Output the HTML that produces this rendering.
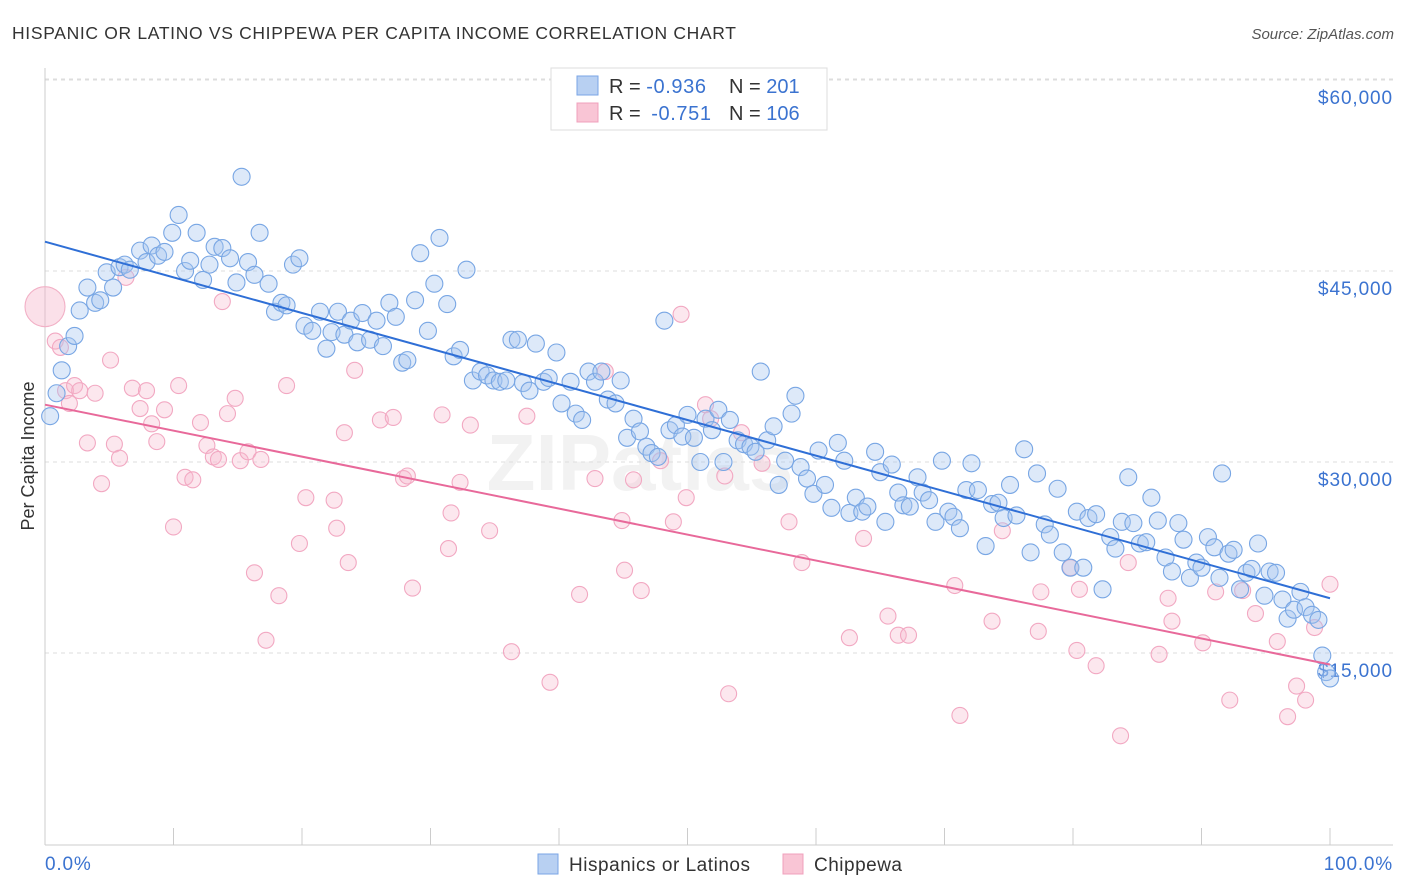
<!DOCTYPE html>
<html><head><meta charset="utf-8"><style>
body{margin:0;background:#fff;font-family:"Liberation Sans",sans-serif;}
#wrap{position:relative;width:1406px;height:892px;overflow:hidden;}
</style></head><body>
<div id="wrap">
<svg id="svg" width="1406" height="892" xmlns="http://www.w3.org/2000/svg">
<text x="12" y="39" font-size="17.5" fill="#333" textLength="724" lengthAdjust="spacing">HISPANIC OR LATINO VS CHIPPEWA PER CAPITA INCOME CORRELATION CHART</text>
<text x="1394" y="39" font-size="15" fill="#555" font-style="italic" text-anchor="end">Source: ZipAtlas.com</text>
<text x="640" y="490" font-size="80" fill="#000" fill-opacity="0.05" font-weight="bold" text-anchor="middle">ZIPatlas</text>
<g id="grid"></g><g id="axes"></g><g id="pts"></g><g id="trend"></g>
<text x="34" y="456" font-size="18" fill="#333" text-anchor="middle" transform="rotate(-90 34 456)">Per Capita Income</text>
<text x="45" y="870" font-size="19" letter-spacing="0.8" fill="#3b73d0">0.0%</text>
<text x="1393" y="870" font-size="19" letter-spacing="0.8" fill="#3b73d0" text-anchor="end">100.0%</text>
<g>
<rect x="551" y="68" width="276" height="62" fill="#fff" stroke="#ddd"/>
<rect x="577" y="76" width="21" height="19" fill="#b8d0f2" stroke="#7aa5e6"/>
<rect x="577" y="103" width="21" height="19" fill="#f9c5d5" stroke="#f0a0bc"/>
<text x="609" y="93" font-size="20" fill="#333">R = <tspan fill="#3b73d0" letter-spacing="0.6">-0.936</tspan></text>
<text x="729" y="93" font-size="20" fill="#333">N = <tspan fill="#3b73d0">201</tspan></text>
<text x="609" y="120" font-size="20" fill="#333">R = <tspan fill="#3b73d0" dx="5" letter-spacing="0.6">-0.751</tspan></text>
<text x="729" y="120" font-size="20" fill="#333">N = <tspan fill="#3b73d0">106</tspan></text>
</g>
<g>
<rect x="538" y="854" width="20" height="20" fill="#b8d0f2" stroke="#7aa5e6"/>
<text x="569" y="871" font-size="19" fill="#333" textLength="181" lengthAdjust="spacing">Hispanics or Latinos</text>
<rect x="783" y="854" width="20" height="20" fill="#f9c5d5" stroke="#f0a0bc"/>
<text x="814" y="871" font-size="19" fill="#333" textLength="88" lengthAdjust="spacing">Chippewa</text>
</g>
</svg>
</div>
<script>
const yTicks=[15,30,45,60];
const yTickLabels=["$15,000","$30,000","$45,000","$60,000"];
const xTicks=[0,10,20,30,40,50,60,70,80,90,100];
const blueX=[0.4,0.9,1.3,1.8,2.3,2.7,3.3,3.9,4.3,4.8,5.3,5.8,6.2,6.6,7.4,7.9,8.3,8.8,9.3,9.9,10.4,10.9,11.3,11.8,12.3,12.8,13.2,13.8,14.4,14.9,15.3,15.8,16.3,16.7,17.4,17.9,18.4,18.8,19.3,19.8,20.2,20.8,21.4,21.9,22.3,22.8,23.3,23.8,24.3,24.7,25.3,25.8,26.3,26.8,27.3,27.8,28.2,28.8,29.2,29.8,30.3,30.7,31.3,31.8,32.3,32.8,33.3,33.9,34.4,34.9,35.4,35.9,36.3,36.8,37.2,37.7,38.2,38.8,39.2,39.8,40.2,40.9,41.3,41.8,42.3,42.8,43.3,43.8,44.4,44.8,45.3,45.8,46.3,46.8,47.2,47.7,48.2,48.6,49.1,49.6,50.0,50.5,51.0,51.4,51.9,52.4,52.8,53.3,53.9,54.4,54.9,55.3,55.7,56.2,56.7,57.1,57.6,58.1,58.4,58.8,59.3,59.8,60.2,60.7,61.2,61.7,62.2,62.6,63.1,63.6,64.0,64.6,65.0,65.4,65.9,66.4,66.8,67.3,67.9,68.3,68.8,69.3,69.8,70.3,70.7,71.2,71.7,72.1,72.6,73.2,73.7,74.2,74.6,75.1,75.6,76.2,76.7,77.2,77.8,78.2,78.8,79.2,79.8,80.3,80.8,81.2,81.8,82.3,82.9,83.3,83.8,84.3,84.7,85.2,85.7,86.1,86.6,87.2,87.7,88.2,88.6,89.1,89.6,90.0,90.5,91.0,91.4,91.6,92.1,92.5,93.0,93.5,93.9,94.4,94.9,95.3,95.8,96.3,96.7,97.2,97.7,98.1,98.6,99.1,99.4,99.7,100];
const blueY=[33.6,35.4,37.2,39.1,39.9,41.9,43.7,42.5,42.7,44.9,43.7,45.3,45.5,45.1,46.6,45.7,47.0,46.2,46.5,48.0,49.4,45.0,45.8,48.0,44.3,45.5,46.9,46.8,46.0,44.1,52.4,45.7,44.7,48.0,44.0,41.8,42.5,42.3,45.5,46.0,40.7,40.3,41.8,38.9,40.2,41.8,40.0,41.1,39.4,41.7,39.6,41.1,39.1,42.5,41.4,37.8,38.0,42.7,46.4,40.3,44.0,47.6,42.4,38.3,38.8,45.1,36.4,37.1,36.8,36.4,36.3,36.4,39.6,39.6,36.2,35.6,39.3,36.3,36.6,38.6,34.6,36.3,33.8,33.3,37.1,36.3,37.1,34.9,34.6,36.4,31.9,33.4,32.4,31.2,30.7,30.4,41.1,32.5,32.9,32.0,33.7,31.9,30.0,33.4,32.5,34.1,30.0,33.3,31.7,31.4,31.2,30.8,37.1,31.7,32.8,28.2,30.1,33.8,35.2,29.6,28.7,27.5,30.9,28.2,26.4,31.5,30.1,26.0,27.2,26.1,26.5,30.8,29.2,25.3,29.8,27.6,26.6,26.5,28.8,27.6,27.0,25.3,30.1,26.1,25.7,24.8,27.8,29.9,27.8,23.4,26.7,26.8,25.6,28.2,25.8,31.0,22.9,29.1,25.1,24.3,27.9,22.9,21.7,26.1,21.7,25.6,25.9,20.0,24.1,23.2,25.3,28.8,25.2,23.6,23.7,27.2,25.4,22.5,21.4,25.2,23.9,20.9,22.1,21.7,24.1,23.3,20.9,29.1,22.8,23.1,20.0,21.3,21.6,23.6,19.5,21.4,21.3,19.2,17.7,18.4,19.8,18.6,18.0,17.6,14.8,13.5,13.0];
const pinkBigX=[0];
const pinkBigY=[42.2];
const pinkX=[0.8,1.2,1.6,1.9,2.3,2.7,3.3,3.9,4.4,5.1,5.4,5.8,6.3,6.8,7.4,7.9,8.3,8.7,9.3,10.0,10.4,10.9,11.5,12.1,12.6,13.1,13.5,13.8,14.2,14.8,15.2,15.8,16.3,16.8,17.2,18.2,18.8,19.8,20.3,22.5,22.7,23.3,23.6,24.1,26.1,27.1,27.9,28.2,28.6,30.9,31.4,31.6,33.1,32.3,34.6,36.3,37.5,39.3,41.6,42.8,43.6,44.9,45.1,45.8,46.4,47.9,48.9,49.5,49.9,51.4,51.8,52.9,53.2,54.2,55.8,57.9,58.9,62.6,63.7,65.6,66.4,67.2,70.8,71.2,73.7,74.5,77.3,77.5,79.8,80.3,80.5,81.8,83.7,84.3,86.7,87.4,87.7,90.1,91.1,92.2,93.2,94.2,95.9,96.7,97.4,98.1,98.8,100];
const pinkY=[39.5,39.0,35.6,34.6,36.0,35.6,31.5,35.4,28.3,38.0,31.4,30.3,44.5,35.8,34.2,35.6,33.0,31.6,34.1,24.9,36.0,28.8,28.6,33.1,31.3,30.4,30.2,42.6,33.8,35.0,30.1,30.8,21.3,30.2,16.0,19.5,36.0,23.6,27.2,27.0,24.8,32.3,22.1,37.2,33.3,33.5,28.7,28.9,20.1,33.7,23.2,26.0,32.9,28.4,24.6,15.1,33.6,12.7,19.6,28.7,37.1,25.4,21.5,28.6,19.9,30.1,25.3,41.6,27.2,34.5,33.4,28.9,11.8,32.3,29.9,25.3,22.1,16.2,24.0,17.9,16.4,16.4,20.3,10.1,17.5,24.6,16.7,19.8,21.7,15.2,20.0,14.0,8.5,22.1,14.9,19.3,17.5,15.8,19.8,11.3,19.9,18.1,15.9,10.0,12.4,11.3,17.0,20.4];
const blueTrendX=[0,100];
const blueTrendY=[47.3,19.3];
const pinkTrendX=[0,100];
const pinkTrendY=[34.5,14.1];

const NS="http://www.w3.org/2000/svg";
const X0=45,X1=1330,Y0=844,PXK=191/15;
function sx(v){return X0+(X1-X0)*v/100;}
function sy(v){return Y0-v*PXK;}
function mk(tag,attrs,parent){const e=document.createElementNS(NS,tag);for(const k in attrs)e.setAttribute(k,attrs[k]);document.getElementById(parent).appendChild(e);return e;}

yTicks.forEach((t,i)=>{
 const l=mk('line',{x1:45,x2:1393,y1:sy(t),y2:sy(t),stroke:'#ddd','stroke-dasharray':'4,4'},'grid');
 
 
 const tx=mk('text',{x:1393,y:sy(t)+24,'font-size':19,'letter-spacing':0.9,fill:'#3b73d0','text-anchor':'end'},'grid');
 tx.textContent=yTickLabels[i];
 
 
});
const gt=mk('line',{x1:45,x2:1393,y1:79,y2:79,stroke:'#ddd','stroke-dasharray':'4,4'},'grid');


const ya=mk('line',{x1:45,x2:45,y1:68,y2:845,stroke:'#ccc'},'axes');


const xa=mk('line',{x1:45,x2:1393,y1:845,y2:845,stroke:'#ccc'},'axes');


xTicks.forEach(t=>{
 const l=mk('line',{x1:sx(t),x2:sx(t),y1:828,y2:845,stroke:'#ccc'},'axes');
 
 
});
function dots(xs,ys,r,fill,stroke,name){
 xs.forEach((v,i)=>{
  const c=mk('circle',{cx:sx(v),cy:sy(ys[i]),r:r,fill:fill,stroke:stroke,'stroke-width':1.1},'pts');
  
  
 });
}
dots(pinkBigX,pinkBigY,20,'rgba(246,178,200,0.4)','#f2b0c6','chippewa-point-large');
dots(pinkX,pinkY,8,'rgba(246,185,205,0.35)','#f2a8c2','chippewa-point');
dots(blueX,blueY,8.5,'rgba(165,198,240,0.38)','#78a6e4','hispanic-point');
const bt=mk('line',{x1:sx(blueTrendX[0]),y1:sy(blueTrendY[0]),x2:sx(blueTrendX[1]),y2:sy(blueTrendY[1]),stroke:'#2f6fd6','stroke-width':2},'trend');


const pt=mk('line',{x1:sx(pinkTrendX[0]),y1:sy(pinkTrendY[0]),x2:sx(pinkTrendX[1]),y2:sy(pinkTrendY[1]),stroke:'#e8699a','stroke-width':2},'trend');


</script>
</body></html>
